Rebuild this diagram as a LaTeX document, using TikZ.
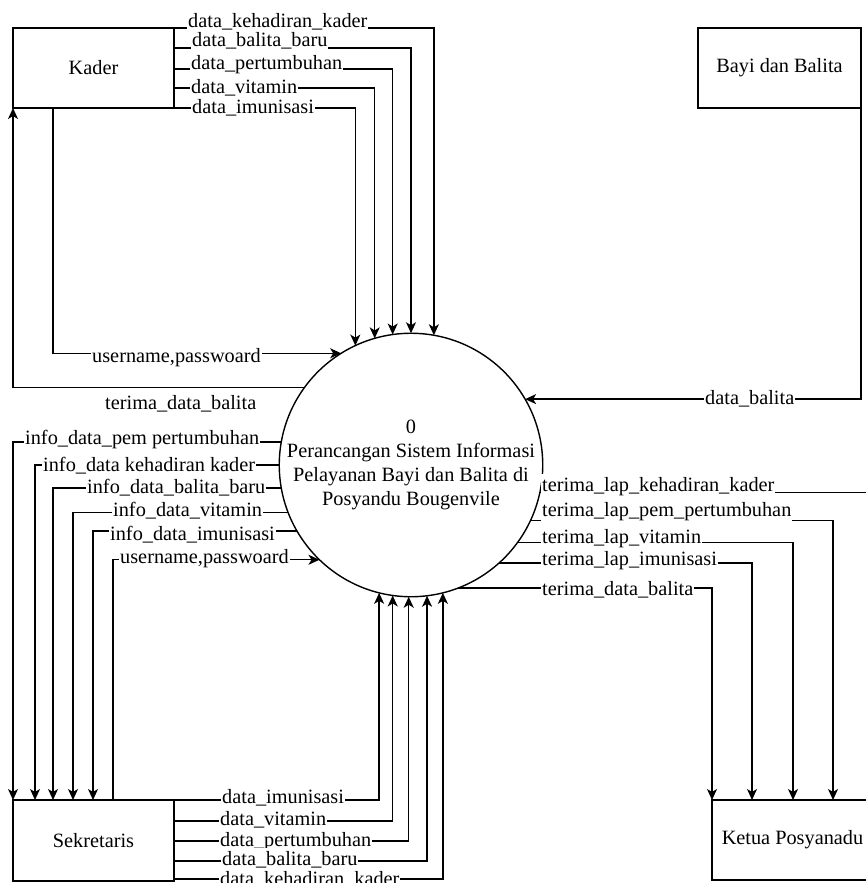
\documentclass[tikz,border=0pt]{standalone}
\usepackage{fontspec}
\setmainfont{Liberation Serif}
\usetikzlibrary{arrows.meta,calc}
\begin{document}
\begin{tikzpicture}[x=1pt,y=-1pt,
  every node/.style={font=\fontsize{20.3}{24}\selectfont},
  ent/.style={draw, line width=1.4pt, rectangle, minimum width=161pt, minimum height=80pt, inner sep=0pt, outer sep=0pt},
  flow/.style={line width=1.4pt},
  arr/.style={flow, -{Stealth[length=11pt,width=10pt,inset=3pt]}},
  lbl/.style={fill=white, inner xsep=1pt, inner ysep=3pt, anchor=base west}]
\useasboundingbox (0,0) rectangle (866,883);

% entities
\node[ent] (kader) at (93.5,68) {Kader};
\node[ent, minimum width=163pt] (bayi) at (779.5,68) {Bayi dan Balita};
\node[ent, minimum height=81pt] (sek) at (93.5,840.5) {Sekretaris};
\node[ent] (ketua) at (792.5,840) {Ketua Posyanadu};
\node[draw, circle, line width=1.4pt, minimum size=254pt, inner sep=0pt, outer sep=0pt, align=center] (proc) at (411,465)
  {0\\Perancangan Sistem Informasi\\Pelayanan Bayi dan Balita di\\Posyandu Bougenvile};

% Kader -> process
\draw[arr] (kader.north east) -| (proc.80.9);
\draw[arr] ($(kader.north east)+(0,20)$) -| (proc.90.9);
\draw[arr] ($(kader.north east)+(0,41)$) -| (proc.98.6);
\draw[arr] ($(kader.north east)+(0,60)$) -| (proc.106);
\draw[arr] (kader.south east) -| (proc.115.2);
\draw[arr] ($(kader.south west)+(40,0)$) |- (proc.122.6);
\draw[arr] (proc.144.9) -| (kader.south west);

% Bayi -> process
\draw[arr] (bayi.south east) |- (proc.30.8);

% process -> Sekretaris
\draw[arr] (proc.170.9) -| (sek.north west);
\draw[arr] (proc.180.5) -| ($(sek.north west)+(22,0)$);
\draw[arr] (proc.190.4) -| ($(sek.north west)+(40,0)$);
\draw[arr] (proc.201.7) -| ($(sek.north west)+(60,0)$);
\draw[arr] (proc.210.3) -| ($(sek.north west)+(80,0)$);
\draw[arr] ($(sek.north west)+(100,0)$) |- (proc.226.4);

% Sekretaris -> process
\draw[arr] (sek.north east) -| (proc.256.3);
\draw[arr] ($(sek.north east)+(0,21)$) -| (proc.262.3);
\draw[arr] ($(sek.north east)+(0,41)$) -| (proc.269.5);
\draw[arr] ($(sek.north east)+(0,61)$) -| (proc.277.2);
\draw[arr] ($(sek.north east)+(0,79)$) -| (proc.284.1);

% process -> Ketua
\draw[arr] (proc.348.6) -| (ketua.north east);
\draw[arr] (proc.335.8) -| ($(ketua.north west)+(121,0)$);
\draw[arr] (proc.324.9) -| ($(ketua.north west)+(81,0)$);
\draw[arr] (proc.312.3) -| ($(ketua.north west)+(40,0)$);
\draw[arr] (proc.291.7) -| (ketua.north west);

% labels
\node[lbl] (l1) at (187,28) {data\_kehadiran\_kader};
\node[lbl] (l2) at (191,47) {data\_balita\_baru};
\node[lbl] (l3) at (190,70) {data\_pertumbuhan\hspace{5pt}};
\node[lbl] (l4) at (190,93) {data\_vitamin};
\node[lbl] (l5) at (191,113) {data\_imunisasi};
\node[lbl] (l6) at (91,362) {username,passwoard};
\node[lbl] (l7) at (104,409) {terima\_data\_balita};
\node[lbl] (l8) at (704,404) {data\_balita};

\node[lbl] (l9) at (24,444) {info\_data\_pem pertumbuhan};
\node[lbl] (l10) at (42,471) {info\_data kehadiran kader};
\node[lbl] (l11) at (86,493) {info\_data\_balita\_baru};
\node[lbl] (l12) at (112,516) {info\_data\_vitamin};
\node[lbl] (l13) at (109,540) {info\_data\_imunisasi};
\node[lbl] (l14) at (119,563) {username,passwoard};

\node[lbl] (l15) at (541,491) {terima\_lap\_kehadiran\_kader};
\node[lbl] (l16) at (541,516) {terima\_lap\_pem\_pertumbuhan};
\node[lbl] (l17) at (541,543) {terima\_lap\_vitamin};
\node[lbl] (l18) at (541,565) {terima\_lap\_imunisasi};
\node[lbl] (l19) at (541,595) {terima\_data\_balita};

\node[lbl] (l20) at (221,803) {data\_imunisasi};
\node[lbl] (l21) at (219,825) {data\_vitamin};
\node[lbl] (l22) at (219,846) {data\_pertumbuhan\hspace{5pt}};
\node[lbl] (l23) at (221,865) {data\_balita\_baru};
\node[lbl] (l24) at (219,885) {data\_kehadiran\_kader};
\end{tikzpicture}
\end{document}
